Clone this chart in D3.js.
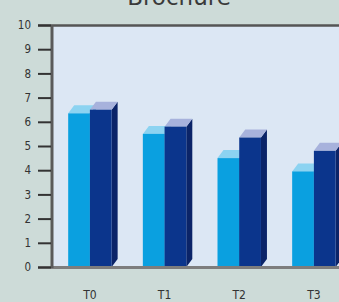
<!DOCTYPE html>
<html>
<head>
<meta charset="utf-8">
<script src="https://cdn.jsdelivr.net/npm/d3@7"></script>
<style>
  body { margin: 0; background: #cddbd8; }
  svg { display: block; }
</style>
</head>
<body>
<svg id="chart" width="339" height="302"></svg>
<script>
// data
var categories = ["T0", "T1", "T2", "T3"];
var seriesNames = ["light", "dark"];
var lightValues = [6.35, 5.5, 4.5, 3.95];
var darkValues = [6.5, 5.8, 5.35, 4.8];
var yTicks = [0, 1, 2, 3, 4, 5, 6, 7, 8, 9, 10];
var title = "Brochure";

var W = 339, H = 302;
var plot = { left: 53, top: 25, bottom: 267, right: 339 };
var depth = { dx: 6, dy: 8 };
var colors = {
  light: { front: "#0aa0e0", top: "#8cd3f1", side: "#0a86c0" },
  dark: { front: "#0b358c", top: "#a7b2dc", side: "#0b2468" }
};

var svg = d3.select("#chart");

var y = d3.scaleLinear().domain([0, 10]).range([plot.bottom, plot.top]);
var x = d3.scaleBand().domain(categories)
  .range([54, 349.8]).paddingInner(0.418).paddingOuter(0.19);
var xs = d3.scaleBand().domain(seriesNames).range([0, x.bandwidth()]);

// plot area
svg.append("rect")
  .attr("x", plot.left).attr("y", plot.top)
  .attr("width", plot.right - plot.left).attr("height", plot.bottom - plot.top)
  .attr("fill", "#dce7f4");

// title (cut off at top, as in the source)
svg.append("text")
  .attr("x", 179).attr("y", 5)
  .attr("text-anchor", "middle")
  .attr("font-family", "DejaVu Sans, sans-serif")
  .attr("font-size", 23)
  .attr("fill", "#3a3a3a")
  .text(title);

// bars
var rows = categories.map((c, i) => ({ cat: c, light: lightValues[i], dark: darkValues[i] }));
var groups = svg.append("g").selectAll("g")
  .data(rows).join("g")
  .attr("transform", d => `translate(${x(d.cat)},0)`);

var bars = groups.selectAll("g")
  .data(d => seriesNames.map(k => ({ key: k, value: d[k] })))
  .join("g");

bars.each(function(d) {
  var g = d3.select(this);
  var x0 = xs(d.key), w = xs.bandwidth();
  var y0 = y(d.value), yb = y(0);
  var c = colors[d.key];
  // side
  g.append("path")
    .attr("d", `M${x0 + w},${y0} L${x0 + w + depth.dx},${y0 - depth.dy} L${x0 + w + depth.dx},${yb - depth.dy} L${x0 + w},${yb} Z`)
    .attr("fill", c.side);
  // top
  g.append("path")
    .attr("d", `M${x0},${y0} L${x0 + depth.dx},${y0 - depth.dy} L${x0 + w + depth.dx},${y0 - depth.dy} L${x0 + w},${y0} Z`)
    .attr("fill", c.top);
  // front
  g.append("rect")
    .attr("x", x0).attr("y", y0)
    .attr("width", w).attr("height", yb - y0)
    .attr("fill", c.front);
});

// axis lines
svg.append("line")
  .attr("x1", 38).attr("x2", W).attr("y1", plot.bottom + 0.5).attr("y2", plot.bottom + 0.5)
  .attr("stroke", "#7d7d7d").attr("stroke-width", 3);
svg.append("line")
  .attr("x1", 38).attr("x2", W).attr("y1", plot.top + 0.5).attr("y2", plot.top + 0.5)
  .attr("stroke", "#555").attr("stroke-width", 2.5);
svg.append("line")
  .attr("x1", 52).attr("x2", 52).attr("y1", plot.top).attr("y2", plot.bottom + 1)
  .attr("stroke", "#5a5a5a").attr("stroke-width", 3);

// y axis
var yAxis = svg.append("g")
  .attr("transform", "translate(51,0)")
  .call(d3.axisLeft(y).tickValues(yTicks).tickSize(13).tickPadding(7));
yAxis.select(".domain").remove();
yAxis.selectAll("line").attr("stroke", "#333").attr("stroke-width", 2);
yAxis.selectAll("text")
  .attr("font-family", "DejaVu Sans Condensed, sans-serif")
  .attr("font-size", 11.5).attr("fill", "#333");

// x labels
var xAxis = svg.append("g")
  .attr("transform", `translate(0,${plot.bottom})`)
  .call(d3.axisBottom(x).tickSize(0).tickPadding(23));
xAxis.select(".domain").remove();
xAxis.selectAll("text")
  .attr("font-family", "DejaVu Sans Condensed, sans-serif")
  .attr("font-size", 12).attr("fill", "#333");
</script>
</body>
</html>
